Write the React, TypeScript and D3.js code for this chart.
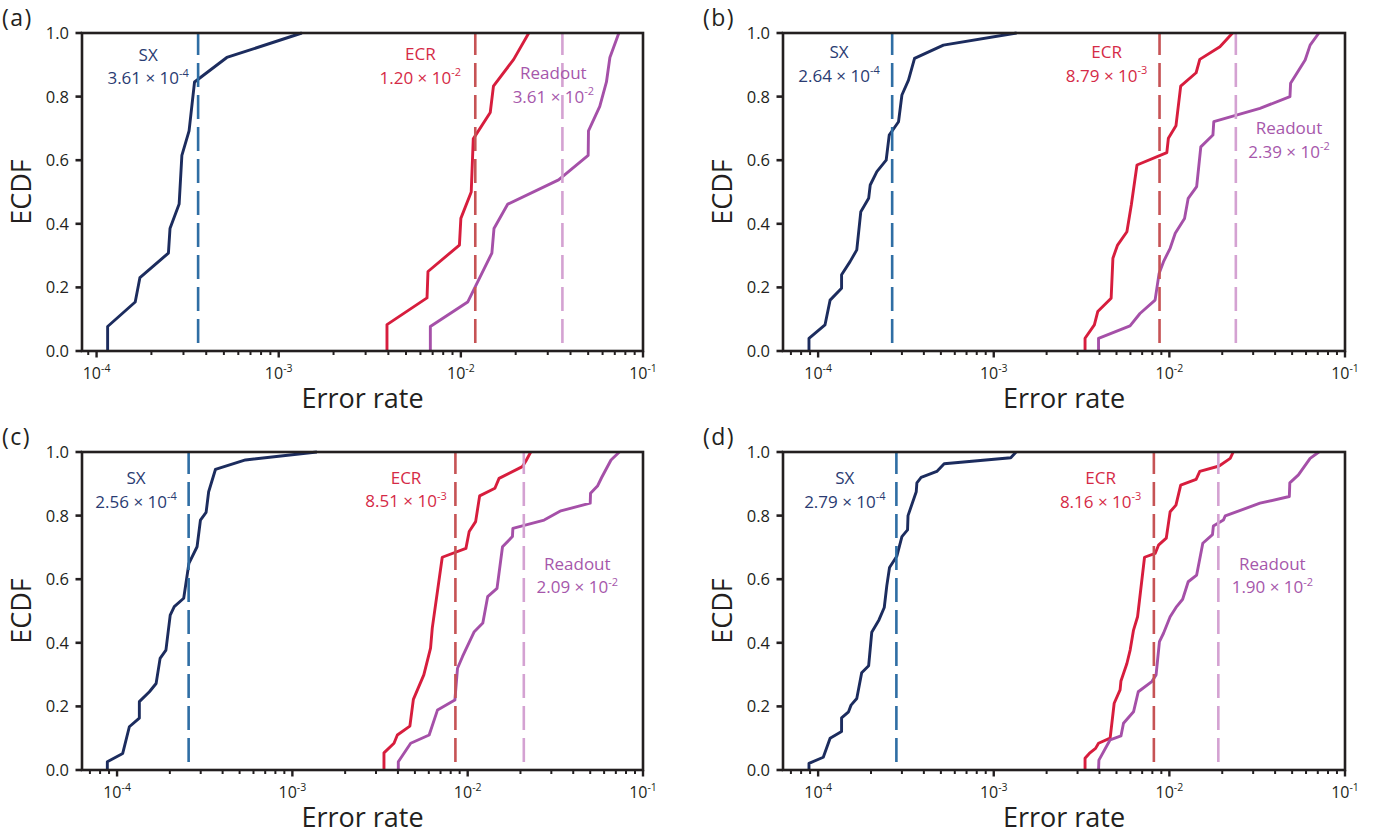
import React from 'react';
import * as d3 from 'd3';

type Pt = [number, number];

// ---------- DATA ----------
const panelLetters = ['(a)', '(b)', '(c)', '(d)'];
const seriesNames = ['SX', 'ECR', 'Readout'];
const xTickValues = [1e-4, 1e-3, 1e-2, 1e-1];
const yTickValues = [0, 0.2, 0.4, 0.6, 0.8, 1.0];

// mean error rates shown as dashed lines (per panel)
const sxMean = [3.61e-4, 2.64e-4, 2.56e-4, 2.79e-4];
const ecrMean = [1.2e-2, 8.79e-3, 8.51e-3, 8.16e-3];
const readoutMean = [3.61e-2, 2.39e-2, 2.09e-2, 1.9e-2];

// ECDF curves: [error rate, ECDF]
const sxA: Pt[] = [[1.15e-4,0],[1.15e-4,0.077],[1.63e-4,0.154],[1.73e-4,0.231],[2.48e-4,0.308],[2.53e-4,0.385],[2.84e-4,0.462],[2.94e-4,0.615],[3.22e-4,0.692],[3.45e-4,0.846],[5.19e-4,0.923],[1.34e-3,1.0]];
const ecrA: Pt[] = [[3.93e-3,0],[3.93e-3,0.083],[6.52e-3,0.167],[6.6e-3,0.25],[9.82e-3,0.333],[1.0e-2,0.417],[1.14e-2,0.5],[1.17e-2,0.667],[1.45e-2,0.75],[1.51e-2,0.833],[1.95e-2,0.917],[2.36e-2,1.0]];
const roA: Pt[] = [[6.8e-3,0],[6.8e-3,0.077],[1.09e-2,0.154],[1.48e-2,0.308],[1.52e-2,0.385],[1.81e-2,0.462],[3.44e-2,0.538],[5.0e-2,0.615],[5.02e-2,0.692],[5.79e-2,0.769],[6.3e-2,0.846],[6.58e-2,0.923],[7.37e-2,1.0]];

const sxB: Pt[] = [[8.87e-5,0],[8.87e-5,0.04],[1.094e-4,0.082],[1.17e-4,0.16],[1.36e-4,0.197],[1.36e-4,0.24],[1.52e-4,0.281],[1.66e-4,0.318],[1.75e-4,0.438],[1.94e-4,0.48],[1.98e-4,0.522],[2.16e-4,0.564],[2.44e-4,0.6],[2.54e-4,0.679],[2.87e-4,0.721],[3.0e-4,0.805],[3.27e-4,0.852],[3.54e-4,0.92],[5.17e-4,0.962],[1.35e-3,1]];
const ecrB: Pt[] = [[3.31e-3,0],[3.31e-3,0.04],[3.74e-3,0.082],[3.91e-3,0.124],[4.66e-3,0.166],[4.77e-3,0.292],[5.07e-3,0.333],[5.73e-3,0.375],[6.07e-3,0.459],[6.54e-3,0.585],[9.67e-3,0.624],[9.87e-3,0.669],[1.09e-2,0.708],[1.16e-2,0.833],[1.42e-2,0.875],[1.49e-2,0.917],[1.94e-2,0.957],[2.29e-2,1]];
const roB: Pt[] = [[3.95e-3,0],[3.95e-3,0.04],[5.97e-3,0.079],[6.8e-3,0.118],[8.29e-3,0.16],[8.74e-3,0.244],[9.26e-3,0.281],[1.01e-2,0.323],[1.08e-2,0.37],[1.22e-2,0.417],[1.28e-2,0.48],[1.43e-2,0.517],[1.51e-2,0.642],[1.77e-2,0.679],[1.79e-2,0.721],[3.28e-2,0.763],[4.86e-2,0.8],[4.9e-2,0.842],[5.93e-2,0.915],[6.33e-2,0.962],[7.1e-2,1]];

const sxC: Pt[] = [[8.8e-5,0],[8.8e-5,0.026],[1.077e-4,0.052],[1.175e-4,0.136],[1.34e-4,0.163],[1.34e-4,0.215],[1.53e-4,0.246],[1.67e-4,0.272],[1.76e-4,0.351],[1.9e-4,0.377],[2.01e-4,0.487],[2.12e-4,0.514],[2.4e-4,0.54],[2.57e-4,0.65],[2.86e-4,0.702],[2.99e-4,0.786],[3.22e-4,0.81],[3.33e-4,0.875],[3.64e-4,0.945],[5.4e-4,0.975],[1.38e-3,1]];
const ecrC: Pt[] = [[3.33e-3,0],[3.33e-3,0.054],[3.8e-3,0.084],[3.97e-3,0.11],[4.68e-3,0.138],[4.9e-3,0.222],[5.62e-3,0.299],[6.14e-3,0.383],[6.28e-3,0.446],[7.16e-3,0.669],[9.77e-3,0.697],[1.02e-2,0.75],[1.11e-2,0.781],[1.17e-2,0.862],[1.43e-2,0.886],[1.51e-2,0.917],[2.05e-2,0.954],[2.14e-2,0.97],[2.29e-2,1]];
const roC: Pt[] = [[4.02e-3,0],[4.02e-3,0.026],[4.73e-3,0.084],[6.03e-3,0.11],[6.73e-3,0.189],[8.45e-3,0.22],[8.75e-3,0.32],[9.35e-3,0.357],[1.09e-2,0.435],[1.22e-2,0.462],[1.3e-2,0.545],[1.47e-2,0.571],[1.58e-2,0.702],[1.8e-2,0.734],[1.81e-2,0.76],[2.73e-2,0.786],[3.4e-2,0.815],[5.0e-2,0.839],[5.02e-2,0.87],[5.5e-2,0.893],[5.8e-2,0.919],[6.57e-2,0.975],[7.33e-2,1]];

const sxD: Pt[] = [[8.87e-5,0],[8.87e-5,0.021],[1.07e-4,0.04],[1.17e-4,0.1],[1.36e-4,0.121],[1.36e-4,0.164],[1.49e-4,0.183],[1.54e-4,0.204],[1.66e-4,0.225],[1.77e-4,0.306],[1.94e-4,0.328],[2.02e-4,0.433],[2.22e-4,0.472],[2.38e-4,0.511],[2.46e-4,0.579],[2.55e-4,0.637],[2.81e-4,0.673],[3.0e-4,0.734],[3.23e-4,0.755],[3.25e-4,0.8],[3.62e-4,0.875],[3.65e-4,0.903],[3.86e-4,0.92],[4.74e-4,0.939],[5.22e-4,0.963],[1.25e-3,0.982],[1.34e-3,1]];
const ecrD: Pt[] = [[3.31e-3,0],[3.31e-3,0.037],[3.5e-3,0.052],[3.8e-3,0.068],[3.95e-3,0.084],[4.6e-3,0.1],[4.85e-3,0.21],[5.24e-3,0.252],[5.3e-3,0.28],[5.73e-3,0.335],[5.98e-3,0.377],[6.25e-3,0.44],[6.59e-3,0.482],[7.22e-3,0.669],[8.3e-3,0.681],[8.67e-3,0.707],[9.6e-3,0.729],[1.01e-2,0.812],[1.09e-2,0.833],[1.16e-2,0.896],[1.42e-2,0.914],[1.49e-2,0.939],[1.92e-2,0.956],[2.22e-2,0.98],[2.31e-2,1]];
const roD: Pt[] = [[3.95e-3,0],[3.97e-3,0.031],[4.6e-3,0.095],[5.3e-3,0.107],[5.48e-3,0.147],[6.25e-3,0.183],[6.65e-3,0.246],[7.94e-3,0.278],[8.4e-3,0.299],[8.78e-3,0.404],[9.26e-3,0.43],[1.01e-2,0.482],[1.1e-2,0.514],[1.19e-2,0.537],[1.28e-2,0.592],[1.43e-2,0.613],[1.55e-2,0.713],[1.76e-2,0.74],[1.78e-2,0.767],[2.03e-2,0.786],[2.08e-2,0.799],[3.28e-2,0.839],[4.82e-2,0.86],[4.85e-2,0.903],[5.43e-2,0.928],[6.33e-2,0.98],[7.1e-2,1]];

const sxSeries = [sxA, sxB, sxC, sxD];
const ecrSeries = [ecrA, ecrB, ecrC, ecrD];
const roSeries = [roA, roB, roC, roD];

// ---------- LAYOUT / STYLE ----------
const W = 1396;
const H = 838;
const FONT = "'Open Sans', 'Noto Sans', sans-serif";
const TEXT = '#231f20';

const panelBoxes = [
  { left: 82, right: 643, top: 33, bottom: 351, logMin: -4.08 },
  { left: 783, right: 1345, top: 33, bottom: 351, logMin: -4.2 },
  { left: 82, right: 643, top: 452, bottom: 770, logMin: -4.2 },
  { left: 783, right: 1345, top: 452, bottom: 770, logMin: -4.2 },
];

// label anchors in data coordinates: [error rate (centre), ECDF (first baseline)]
const labelAnchors: Pt[][] = [
  [[1.92e-4, 0.912], [5.99e-3, 0.915], [3.22e-2, 0.855]],
  [[1.315e-4, 0.921], [4.39e-3, 0.921], [4.8e-2, 0.682]],
  [[1.284e-4, 0.899], [4.45e-3, 0.9], [4.22e-2, 0.629]],
  [[1.42e-4, 0.899], [4.06e-3, 0.899], [3.86e-2, 0.629]],
];

const lineColors = ['#1c2c5e', '#d71d3d', '#a550a8'];
const dashColors = ['#2f6ea4', '#c65355', '#d4a2d2'];
const labelColors = ['#2a3b72', '#d52a46', '#a657ab'];

function splitSci(v: number) {
  const e = Math.floor(Math.log10(v) + 1e-9);
  const m = v / Math.pow(10, e);
  return { m: m.toFixed(2), e: String(e) };
}

function Panel({ idx }: { idx: number }) {
  const B = panelBoxes[idx];
  const x = d3.scaleLog().domain([Math.pow(10, B.logMin), 1e-1]).range([B.left, B.right]);
  const y = d3.scaleLinear().domain([0, 1]).range([B.bottom, B.top]);
  const line = d3.line<Pt>().x((d) => x(d[0])).y((d) => y(d[1]));
  const [d0] = x.domain();

  const minors: number[] = [];
  for (let e = -5; e <= -2; e++) {
    for (let m = 2; m <= 9; m++) {
      const v = m * Math.pow(10, e);
      if (v >= d0 && v <= 1e-1) minors.push(v);
    }
  }

  const series = [sxSeries[idx], ecrSeries[idx], roSeries[idx]];
  const means = [sxMean[idx], ecrMean[idx], readoutMean[idx]];
  const midX = (B.left + B.right) / 2;
  const midY = (B.top + B.bottom) / 2;

  return (
    <g>
      {/* curves */}
      {series.map((s, i) => (
        <path key={'c' + i} d={line(s) || ''} fill="none" stroke={lineColors[i]} strokeWidth={2.9} strokeLinejoin="round" />
      ))}
      {/* dashed mean lines */}
      {means.map((v, i) => (
        <line key={'m' + i} x1={x(v)} x2={x(v)} y1={y(0)} y2={y(1)} stroke={dashColors[i]} strokeWidth={2.6}
          strokeDasharray="24 8" strokeDashoffset={24} />
      ))}
      {/* frame */}
      <rect x={B.left} y={B.top} width={B.right - B.left} height={B.bottom - B.top} fill="none" stroke={TEXT} strokeWidth={2.6} />
      {/* y ticks */}
      {yTickValues.map((t) => (
        <g key={'y' + t}>
          <line x1={B.left - 6.5} x2={B.left} y1={y(t)} y2={y(t)} stroke={TEXT} strokeWidth={2.6} />
          <text x={B.left - 13} y={y(t)} dy="0.36em" textAnchor="end" fontSize={16.5} fill={TEXT} fontFamily={FONT}>
            {t.toFixed(1)}
          </text>
        </g>
      ))}
      {/* x minor ticks */}
      {minors.map((v) => (
        <line key={'n' + v} x1={x(v)} x2={x(v)} y1={B.bottom} y2={B.bottom + 4} stroke={TEXT} strokeWidth={2} />
      ))}
      {/* x major ticks */}
      {xTickValues.map((v) => (
        <g key={'x' + v}>
          <line x1={x(v)} x2={x(v)} y1={B.bottom} y2={B.bottom + 6.5} stroke={TEXT} strokeWidth={2.4} />
          <text x={x(v)} y={B.bottom + 28} textAnchor="middle" fontSize={16} fill={TEXT} fontFamily={FONT}>
            10<tspan fontSize={10.5} dy={-7.5}>{String(Math.round(Math.log10(v)))}</tspan>
          </text>
        </g>
      ))}
      {/* annotations */}
      {seriesNames.map((name, i) => {
        const [ax, ay] = labelAnchors[idx][i];
        const { m, e } = splitSci(means[i]);
        const px = x(ax);
        const py = y(ay);
        return (
          <g key={'l' + i} fill={labelColors[i]} fontFamily={FONT} fontSize={17} textAnchor="middle">
            <text x={px} y={py}>{name}</text>
            <text x={px} y={py + 23.5}>
              {m + ' \u00d7 10'}
              <tspan fontSize={11} dy={-7.5}>{e}</tspan>
            </text>
          </g>
        );
      })}
      {/* axis titles */}
      <text x={midX} y={B.bottom + 57} textAnchor="middle" fontSize={27} fill={TEXT} fontFamily={FONT}>Error rate</text>
      <text transform={`translate(${B.left - 51},${midY}) rotate(-90)`} textAnchor="middle" fontSize={27} fill={TEXT} fontFamily={FONT}>ECDF</text>
      {/* panel letter */}
      <text x={B.left - 80} y={B.top - 7} fontSize={23} letterSpacing={1.5} fill={TEXT} fontFamily={FONT}>{panelLetters[idx]}</text>
    </g>
  );
}

export default function App() {
  return (
    <svg width={W} height={H} viewBox={`0 0 ${W} ${H}`} style={{ position: 'absolute', left: 0, top: 0, background: '#fff' }}>
      <rect width={W} height={H} fill="#fff" />
      {panelBoxes.map((_, i) => (
        <Panel key={i} idx={i} />
      ))}
    </svg>
  );
}
